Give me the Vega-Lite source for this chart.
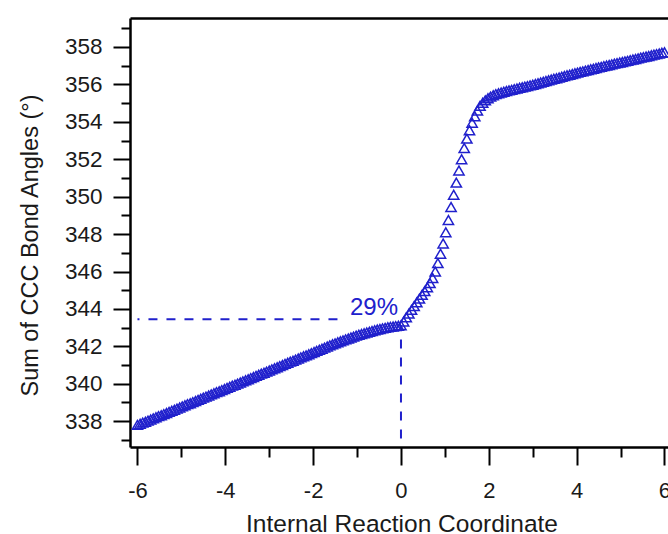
{
  "$schema": "https://vega.github.io/schema/vega-lite/v6.json",
  "width": 538,
  "height": 429,
  "autosize": {"type": "none"},
  "padding": {"left": 130, "top": 18, "right": 0, "bottom": 87},
  "background": "white",
  "config": {"view": {"stroke": null}, "font": "Liberation Sans"},
  "datasets": {
    "irc": [
      {"x":-6.00,"y":337.80},{"x":-5.94,"y":337.86},{"x":-5.88,"y":337.92},{"x":-5.82,"y":337.97},{"x":-5.76,"y":338.03},
      {"x":-5.70,"y":338.09},{"x":-5.64,"y":338.15},{"x":-5.58,"y":338.21},{"x":-5.52,"y":338.27},{"x":-5.46,"y":338.32},
      {"x":-5.40,"y":338.38},{"x":-5.34,"y":338.44},{"x":-5.28,"y":338.50},{"x":-5.22,"y":338.56},{"x":-5.16,"y":338.61},
      {"x":-5.10,"y":338.67},{"x":-5.04,"y":338.73},{"x":-4.98,"y":338.79},{"x":-4.92,"y":338.85},{"x":-4.86,"y":338.91},
      {"x":-4.80,"y":338.96},{"x":-4.74,"y":339.02},{"x":-4.68,"y":339.08},{"x":-4.62,"y":339.14},{"x":-4.56,"y":339.20},
      {"x":-4.50,"y":339.26},{"x":-4.44,"y":339.31},{"x":-4.38,"y":339.37},{"x":-4.32,"y":339.43},{"x":-4.26,"y":339.49},
      {"x":-4.20,"y":339.55},{"x":-4.14,"y":339.60},{"x":-4.08,"y":339.66},{"x":-4.02,"y":339.72},{"x":-3.96,"y":339.78},
      {"x":-3.90,"y":339.84},{"x":-3.84,"y":339.90},{"x":-3.78,"y":339.95},{"x":-3.72,"y":340.01},{"x":-3.66,"y":340.07},
      {"x":-3.60,"y":340.13},{"x":-3.54,"y":340.19},{"x":-3.48,"y":340.24},{"x":-3.42,"y":340.30},{"x":-3.36,"y":340.36},
      {"x":-3.30,"y":340.42},{"x":-3.24,"y":340.48},{"x":-3.18,"y":340.54},{"x":-3.12,"y":340.59},{"x":-3.06,"y":340.65},
      {"x":-3.00,"y":340.71},{"x":-2.94,"y":340.77},{"x":-2.88,"y":340.83},{"x":-2.82,"y":340.88},{"x":-2.76,"y":340.94},
      {"x":-2.70,"y":341.00},{"x":-2.64,"y":341.06},{"x":-2.58,"y":341.12},{"x":-2.52,"y":341.18},{"x":-2.46,"y":341.23},
      {"x":-2.40,"y":341.29},{"x":-2.34,"y":341.35},{"x":-2.28,"y":341.41},{"x":-2.22,"y":341.47},{"x":-2.16,"y":341.52},
      {"x":-2.10,"y":341.58},{"x":-2.04,"y":341.64},{"x":-1.98,"y":341.70},{"x":-1.92,"y":341.76},{"x":-1.86,"y":341.82},
      {"x":-1.80,"y":341.87},{"x":-1.74,"y":341.93},{"x":-1.68,"y":341.99},{"x":-1.62,"y":342.05},{"x":-1.56,"y":342.11},
      {"x":-1.50,"y":342.16},{"x":-1.44,"y":342.22},{"x":-1.38,"y":342.27},{"x":-1.32,"y":342.32},{"x":-1.26,"y":342.37},
      {"x":-1.20,"y":342.42},{"x":-1.14,"y":342.47},{"x":-1.08,"y":342.52},{"x":-1.02,"y":342.57},{"x":-0.96,"y":342.62},
      {"x":-0.90,"y":342.66},{"x":-0.84,"y":342.70},{"x":-0.78,"y":342.74},{"x":-0.72,"y":342.78},{"x":-0.66,"y":342.82},
      {"x":-0.60,"y":342.86},{"x":-0.54,"y":342.90},{"x":-0.48,"y":342.93},{"x":-0.42,"y":342.96},{"x":-0.36,"y":342.99},
      {"x":-0.30,"y":343.02},{"x":-0.24,"y":343.04},{"x":-0.18,"y":343.06},{"x":-0.12,"y":343.08},{"x":-0.06,"y":343.10},
      {"x":0.00,"y":343.12},
      {"x":0.06,"y":343.33},{"x":0.12,"y":343.55},{"x":0.18,"y":343.75},{"x":0.24,"y":343.95},{"x":0.30,"y":344.15},
      {"x":0.36,"y":344.35},{"x":0.42,"y":344.55},{"x":0.48,"y":344.75},{"x":0.54,"y":344.95},{"x":0.60,"y":345.15},
      {"x":0.66,"y":345.38},{"x":0.72,"y":345.65},{"x":0.78,"y":346.00},{"x":0.84,"y":346.45},{"x":0.90,"y":346.95},
      {"x":0.96,"y":347.50},{"x":1.02,"y":348.10},{"x":1.08,"y":348.75},{"x":1.14,"y":349.45},{"x":1.20,"y":350.10},
      {"x":1.26,"y":350.75},{"x":1.32,"y":351.40},{"x":1.38,"y":352.00},{"x":1.44,"y":352.60},{"x":1.50,"y":353.10},
      {"x":1.56,"y":353.55},{"x":1.62,"y":353.95},{"x":1.68,"y":354.30},{"x":1.74,"y":354.60},{"x":1.80,"y":354.85},
      {"x":1.86,"y":355.02},{"x":1.92,"y":355.15},{"x":1.98,"y":355.26},{"x":2.04,"y":355.35},{"x":2.10,"y":355.42},
      {"x":2.16,"y":355.48},{"x":2.22,"y":355.53},{"x":2.28,"y":355.57},{"x":2.34,"y":355.61},{"x":2.40,"y":355.65},
      {"x":2.46,"y":355.68},{"x":2.52,"y":355.71},{"x":2.58,"y":355.75},{"x":2.64,"y":355.78},{"x":2.70,"y":355.82},
      {"x":2.76,"y":355.85},{"x":2.82,"y":355.88},{"x":2.88,"y":355.91},{"x":2.94,"y":355.95},{"x":3.00,"y":355.98},
      {"x":3.06,"y":356.02},{"x":3.12,"y":356.06},{"x":3.18,"y":356.10},{"x":3.24,"y":356.14},{"x":3.30,"y":356.18},
      {"x":3.36,"y":356.22},{"x":3.42,"y":356.26},{"x":3.48,"y":356.30},{"x":3.54,"y":356.33},{"x":3.60,"y":356.37},
      {"x":3.66,"y":356.41},{"x":3.72,"y":356.45},{"x":3.78,"y":356.49},{"x":3.84,"y":356.52},{"x":3.90,"y":356.56},
      {"x":3.96,"y":356.60},{"x":4.02,"y":356.63},{"x":4.08,"y":356.67},{"x":4.14,"y":356.70},{"x":4.20,"y":356.74},
      {"x":4.26,"y":356.77},{"x":4.32,"y":356.81},{"x":4.38,"y":356.84},{"x":4.44,"y":356.88},{"x":4.50,"y":356.91},
      {"x":4.56,"y":356.94},{"x":4.62,"y":356.98},{"x":4.68,"y":357.01},{"x":4.74,"y":357.04},{"x":4.80,"y":357.07},
      {"x":4.86,"y":357.11},{"x":4.92,"y":357.14},{"x":4.98,"y":357.17},{"x":5.04,"y":357.20},{"x":5.10,"y":357.23},
      {"x":5.16,"y":357.26},{"x":5.22,"y":357.30},{"x":5.28,"y":357.33},{"x":5.34,"y":357.36},{"x":5.40,"y":357.39},
      {"x":5.46,"y":357.43},{"x":5.52,"y":357.46},{"x":5.58,"y":357.49},{"x":5.64,"y":357.52},{"x":5.70,"y":357.56},
      {"x":5.76,"y":357.59},{"x":5.82,"y":357.62},{"x":5.88,"y":357.65},{"x":5.94,"y":357.69},{"x":6.00,"y":357.72}
    ],
    "hguide": [{"x": -6.0, "x2": -1.25, "y": 343.45}],
    "vguide": [{"x": 0.0, "y": 343.12, "y2": 336.62}],
    "note": [{"x": -0.615, "y": 344.07, "label": "29%"}]
  },
  "layer": [
    {
      "data": {"name": "irc"},
      "mark": {"type": "point", "shape": "triangle-up", "filled": false, "size": 105, "strokeWidth": 1.5, "color": "#2020cc", "opacity": 1},
      "encoding": {
        "x": {
          "field": "x", "type": "quantitative",
          "scale": {"domain": [-6.17, 6.08], "nice": false, "zero": false},
          "axis": {
            "orient": "bottom",
            "values": [-6,-5,-4,-3,-2,-1,0,1,2,3,4,5,6],
            "labelExpr": "datum.value % 2 === 0 ? '' + datum.value : ''",
            "tickSize": {"condition": {"test": "datum.value % 2 === 0", "value": 18}, "value": 10},
            "tickWidth": 2, "tickColor": "#000",
            "domainColor": "#000", "domainWidth": 2.5,
            "grid": false,
            "labelFont": "Liberation Sans", "labelFontSize": 22, "labelColor": "#1a1a1a",
            "labelPadding": 15, "labelFlush": false, "labelOverlap": false, "labelBaseline": "top",
            "title": "Internal Reaction Coordinate",
            "titleFont": "Liberation Sans", "titleFontSize": 24.5, "titleFontWeight": "normal", "titleColor": "#1a1a1a",
            "titleAlign": "center", "titleAnchor": null, "titleBaseline": "alphabetic", "titleX": 271.5, "titleY": 84
          }
        },
        "y": {
          "field": "y", "type": "quantitative",
          "scale": {"domain": [336.62, 359.55], "nice": false, "zero": false},
          "axis": {
            "orient": "left",
            "values": [337,338,339,340,341,342,343,344,345,346,347,348,349,350,351,352,353,354,355,356,357,358,359],
            "labelExpr": "datum.value % 2 === 0 ? '' + datum.value : ''",
            "tickSize": {"condition": {"test": "datum.value % 2 === 0", "value": 17}, "value": 9},
            "tickWidth": 2, "tickColor": "#000",
            "domainColor": "#000", "domainWidth": 2.5,
            "grid": false,
            "labelFont": "Liberation Sans", "labelFontSize": 22.5, "labelColor": "#1a1a1a",
            "labelPadding": 11, "labelOverlap": false, "labelFlush": false,
            "title": "Sum of CCC Bond Angles (°)",
            "titleFont": "Liberation Sans", "titleFontSize": 23.5, "titleFontWeight": "normal", "titleColor": "#1a1a1a",
            "titleAlign": "center", "titleAnchor": null, "titleBaseline": "middle", "titleX": -100, "titleY": 227, "titleAngle": -90
          }
        }
      }
    },
    {
      "data": {"name": "hguide"},
      "mark": {"type": "rule", "color": "#2020cc", "strokeWidth": 2, "strokeDash": [9, 9], "strokeDashOffset": 7},
      "encoding": {
        "x": {
          "field": "x", "type": "quantitative",
          "scale": {"domain": [-6.17, 6.08], "nice": false, "zero": false},
          "axis": {"orient": "top", "domain": true, "domainColor": "#000", "domainWidth": 2.5, "ticks": false, "labels": false, "grid": false, "title": null}
        },
        "x2": {"field": "x2"},
        "y": {"field": "y", "type": "quantitative", "scale": {"domain": [336.62, 359.55], "nice": false, "zero": false}, "axis": null}
      }
    },
    {
      "data": {"name": "vguide"},
      "mark": {"type": "rule", "color": "#2020cc", "strokeWidth": 2, "strokeDash": [9, 9], "strokeDashOffset": 4},
      "encoding": {
        "x": {"field": "x", "type": "quantitative", "scale": {"domain": [-6.17, 6.08], "nice": false, "zero": false}, "axis": null},
        "y": {"field": "y", "type": "quantitative", "scale": {"domain": [336.62, 359.55], "nice": false, "zero": false}, "axis": null},
        "y2": {"field": "y2"}
      }
    },
    {
      "data": {"name": "note"},
      "mark": {"type": "text", "color": "#2020cc", "font": "Liberation Sans", "fontSize": 24, "align": "center", "baseline": "middle"},
      "encoding": {
        "x": {"field": "x", "type": "quantitative", "scale": {"domain": [-6.17, 6.08], "nice": false, "zero": false}, "axis": null},
        "y": {"field": "y", "type": "quantitative", "scale": {"domain": [336.62, 359.55], "nice": false, "zero": false}, "axis": null},
        "text": {"field": "label"}
      }
    }
  ],
  "resolve": {"axis": {"x": "independent", "y": "independent"}}
}
